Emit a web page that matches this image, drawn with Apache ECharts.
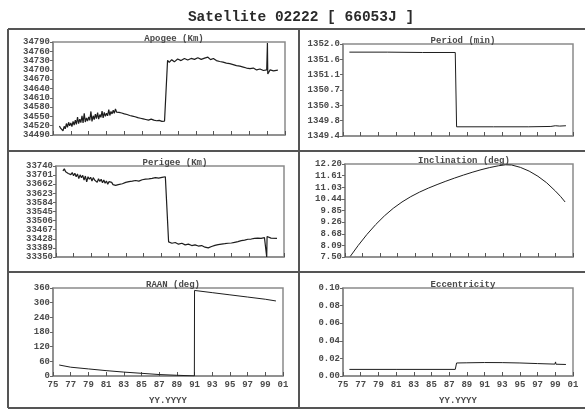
<!DOCTYPE html>
<html>
<head>
<meta charset="utf-8">
<script src="https://cdn.jsdelivr.net/npm/echarts@6/dist/echarts.min.js"></script>
<style>
  html, body { margin: 0; padding: 0; background: #fff; }
  #chart { width: 585px; height: 410px; }
</style>
</head>
<body>
<div id="chart"></div>
<script>
// Orbital history of satellite 02222 (66053J), epochs in decimal years.
const apogeeYears = [1975.72,1975.85,1976.00,1976.12,1976.25,1976.37,1976.50,1976.62,1976.75,1976.87,1977.00,1977.12,1977.25,1977.37,1977.50,1977.62,1977.75,1977.87,1978.00,1978.12,1978.25,1978.37,1978.50,1978.62,1978.75,1978.87,1979.00,1979.12,1979.25,1979.37,1979.50,1979.62,1979.75,1979.87,1980.00,1980.12,1980.25,1980.37,1980.50,1980.62,1980.75,1980.87,1981.00,1981.12,1981.25,1981.37,1981.50,1981.62,1981.75,1981.87,1982.00,1982.12,1982.25,1982.40,1982.55,1982.70,1982.85,1983.00,1983.15,1983.30,1983.45,1983.60,1983.75,1983.90,1984.05,1984.20,1984.35,1984.50,1984.65,1984.80,1984.95,1985.10,1985.25,1985.40,1985.55,1985.70,1985.85,1986.00,1986.15,1986.30,1986.45,1986.60,1986.75,1986.90,1987.05,1987.20,1987.35,1987.50,1987.69,
  1987.84,1988.03,1988.30,1988.60,1988.97,1989.35,1989.73,1990.10,1990.48,1990.86,1991.23,1991.61,1991.99,1992.36,1992.66,1992.97,1993.31,1993.68,1994.06,1994.43,1994.81,1995.19,1995.56,1995.94,1996.32,1996.69,1997.07,1997.45,1997.82,1998.20,1998.58,1998.95,1999.03,1999.07,1999.33,1999.71,2000.20];
const apogeeKm = [34519,34512,34506,34503,34518,34510,34527,34515,34531,34520,34529,34517,34534,34522,34538,34524,34548,34527,34541,34530,34552,34529,34560,34532,34545,34535,34548,34537,34566,34534,34552,34540,34557,34543,34562,34541,34556,34547,34567,34545,34563,34550,34560,34552,34572,34553,34566,34558,34570,34560,34574,34564,34570,34563,34567,34561,34565,34558,34562,34556,34560,34553,34557,34551,34556,34549,34552,34546,34551,34544,34549,34542,34547,34540,34545,34538,34543,34541,34545,34538,34542,34536,34541,34537,34540,34534,34539,34535,34537,
  34731,34724,34733,34726,34735,34730,34737,34732,34737,34734,34739,34734,34738,34741,34733,34737,34730,34727,34725,34722,34720,34717,34714,34712,34709,34706,34704,34706,34700,34703,34698,34700,34787,34687,34700,34697,34699];

const perigeeYears = [1975.79,1975.95,1976.10,1976.25,1976.40,1976.55,1976.70,1976.85,1977.00,1977.15,1977.30,1977.45,1977.60,1977.75,1977.90,1978.05,1978.20,1978.35,1978.50,1978.65,1978.80,1978.95,1979.10,1979.25,1979.40,1979.55,1979.70,1979.85,1980.00,1980.15,1980.30,1980.45,1980.60,1980.75,1980.90,1981.05,1981.20,1981.35,1981.50,1981.65,1981.80,1981.95,1982.10,1982.30,1982.57,1982.95,1983.32,1983.70,1984.08,1984.45,1984.83,1985.21,1985.58,1985.96,1986.34,1986.71,1987.09,1987.47,1987.69,
  1987.84,1988.22,1988.60,1988.97,1989.35,1989.73,1990.10,1990.48,1990.86,1991.23,1991.61,1991.99,1992.36,1992.74,1993.12,1993.49,1993.87,1994.25,1994.62,1995.00,1995.38,1995.75,1996.13,1996.51,1996.88,1997.26,1997.64,1998.01,1998.39,1998.77,1998.99,1999.03,1999.07,1999.52,2000.20];
const perigeeKm = [33719,33728,33715,33721,33708,33716,33703,33712,33698,33709,33694,33706,33686,33702,33690,33700,33680,33697,33672,33694,33683,33692,33676,33690,33680,33688,33670,33685,33674,33683,33668,33680,33666,33676,33662,33673,33665,33670,33660,33668,33657,33664,33660,33666,33664,33670,33673,33675,33678,33675,33681,33684,33685,33687,33690,33688,33691,33694,33692,
  33415,33409,33412,33405,33409,33402,33405,33399,33402,33397,33399,33392,33389,33395,33400,33403,33405,33407,33409,33410,33413,33416,33420,33422,33426,33427,33430,33431,33430,33433,33431,33350,33438,33431,33430];

const periodYears = [1975.72,1980.0,1984.0,1987.69,1987.84,1992.0,1996.0,1998.5,1999.0,1999.5,2000.20];
const periodMin = [1351.77,1351.77,1351.76,1351.76,1349.66,1349.66,1349.66,1349.67,1349.69,1349.68,1349.69];

const inclYears = [1975.60,1976.50,1977.50,1978.50,1979.50,1980.50,1981.50,1982.50,1983.50,1984.50,1985.50,1986.50,1987.50,1988.50,1989.50,1990.50,1991.50,1992.50,1993.30,1994.00,1995.00,1996.00,1997.00,1998.00,1999.00,1999.60,2000.10];
const inclDeg = [7.53,8.08,8.64,9.14,9.58,9.96,10.28,10.55,10.78,10.98,11.16,11.33,11.49,11.64,11.78,11.91,12.02,12.11,12.16,12.15,12.03,11.84,11.58,11.25,10.83,10.55,10.28];

const raanYears = [1975.70,1977.0,1979.0,1981.0,1983.0,1985.0,1987.0,1989.0,1990.98,1991.0,1993.0,1995.0,1997.0,1999.0,2000.20];
const raanDeg = [45,36,29,22,16,11,6,3,0.5,350,341,332,323,314,307];

const eccYears = [1975.72,1981.0,1987.69,1987.84,1989.0,1991.0,1993.0,1995.0,1997.0,1998.95,1999.03,1999.07,2000.20];
const eccVal = [0.0075,0.0075,0.0075,0.0148,0.0150,0.0153,0.0152,0.0148,0.0141,0.0135,0.0160,0.0134,0.0131];

// Axis ranges and tick steps
const yearMin = 1975, yearMax = 2001, yearStep = 2;
const apogeeAxis = [34490, 34790, 30];
const periodAxis = [1349.4, 1352.0, 2.6 / 6];
const perigeeAxis = [33350, 33740, 39];
const inclAxis = [7.5, 12.2, 0.5875];
const raanAxis = [0, 360, 60];
const eccAxis = [0, 0.10, 0.02];

const panelTitles = ['Apogee (Km)', 'Period (min)', 'Perigee (Km)', 'Inclination (deg)', 'RAAN (deg)', 'Eccentricity'];
const mainTitle = 'Satellite 02222 [ 66053J ]';
const xAxisName = 'YY.YYYY';

const MONO = '"Liberation Mono", "DejaVu Sans Mono", monospace';
const AXIS = '#8a8a8a';
const TEXT = '#4a4a4a';

const boxes = [
  { left: 53,  top: 42,  width: 232, height: 93 },
  { left: 343, top: 44,  width: 230, height: 92 },
  { left: 56,  top: 166, width: 228, height: 91 },
  { left: 345, top: 164, width: 228, height: 93 },
  { left: 53,  top: 288, width: 230, height: 88 },
  { left: 343, top: 288, width: 230, height: 88 }
];
const yRanges = [apogeeAxis, periodAxis, perigeeAxis, inclAxis, raanAxis, eccAxis];
const yFormat = [
  v => Math.round(v).toString(),
  v => v.toFixed(1),
  v => Math.round(v).toString(),
  v => v.toFixed(2),
  v => Math.round(v).toString(),
  v => v.toFixed(2)
];
const seriesData = [
  [apogeeYears, apogeeKm],
  [periodYears, periodMin],
  [perigeeYears, perigeeKm],
  [inclYears, inclDeg],
  [raanYears, raanDeg],
  [eccYears, eccVal]
];

const pair = (xs, ys) => xs.map((x, i) => [x, ys[i]]);

const option = {
  animation: false,
  backgroundColor: '#fff',
  title: [
    { text: mainTitle, left: 296, top: 5, textAlign: 'center',
      textStyle: { fontFamily: MONO, fontSize: 14.5, fontWeight: 'bold', color: '#2a2a2a' } }
  ].concat(boxes.map((b, i) => ({
    text: panelTitles[i], left: b.left + b.width / 2, top: b.top - 13, textAlign: 'center',
    textStyle: { fontFamily: MONO, fontSize: 9, fontWeight: 'bold', color: TEXT }
  }))),
  grid: boxes.map(b => Object.assign({ show: true, borderColor: AXIS, borderWidth: 1.5, backgroundColor: '#fff' }, b)),
  xAxis: boxes.map((b, i) => ({
    type: 'value', gridIndex: i, min: yearMin, max: yearMax, interval: yearStep,
    axisLine: { show: true, onZero: false, lineStyle: { color: AXIS, width: 1.5 } },
    axisTick: { show: true, inside: true, length: 4, lineStyle: { color: '#555' } },
    splitLine: { show: false },
    axisLabel: {
      show: i >= 4, margin: 4, fontFamily: MONO, fontSize: 9, fontWeight: 'bold', color: TEXT,
      formatter: v => String(Math.round(v) % 100).padStart(2, '0')
    },
    name: i >= 4 ? xAxisName : '', nameLocation: 'middle', nameGap: 20,
    nameTextStyle: { fontFamily: MONO, fontSize: 9, fontWeight: 'bold', color: TEXT }
  })),
  yAxis: boxes.map((b, i) => ({
    type: 'value', gridIndex: i, min: yRanges[i][0], max: yRanges[i][1], interval: yRanges[i][2],
    axisLine: { show: true, onZero: false, lineStyle: { color: AXIS, width: 1.5 } },
    axisTick: { show: true, inside: false, length: 3, lineStyle: { color: '#666' } },
    splitLine: { show: false },
    axisLabel: { margin: 3, fontFamily: MONO, fontSize: 9, fontWeight: 'bold', color: TEXT, formatter: yFormat[i] }
  })),
  series: seriesData.map((d, i) => ({
    type: 'line', xAxisIndex: i, yAxisIndex: i, data: pair(d[0], d[1]),
    symbol: 'none', clip: true,
    lineStyle: { color: '#1e1e1e', width: i === 0 || i === 2 ? 1.2 : 1 }
  })),
  graphic: [
    // outer frame and panel dividers
    { type: 'line', shape: { x1: 8, y1: 29, x2: 585, y2: 29 }, style: { stroke: '#555', lineWidth: 2 } },
    { type: 'line', shape: { x1: 8, y1: 29, x2: 8, y2: 408 }, style: { stroke: '#555', lineWidth: 2 } },
    { type: 'line', shape: { x1: 8, y1: 408, x2: 585, y2: 408 }, style: { stroke: '#555', lineWidth: 2 } },
    { type: 'line', shape: { x1: 299, y1: 29, x2: 299, y2: 408 }, style: { stroke: '#555', lineWidth: 2 } },
    { type: 'line', shape: { x1: 8, y1: 151, x2: 585, y2: 151 }, style: { stroke: '#555', lineWidth: 2 } },
    { type: 'line', shape: { x1: 8, y1: 272, x2: 585, y2: 272 }, style: { stroke: '#555', lineWidth: 2 } }
  ]
};

const chart = echarts.init(document.getElementById('chart'), null, { renderer: 'canvas' });
chart.setOption(option);
</script>
</body>
</html>
